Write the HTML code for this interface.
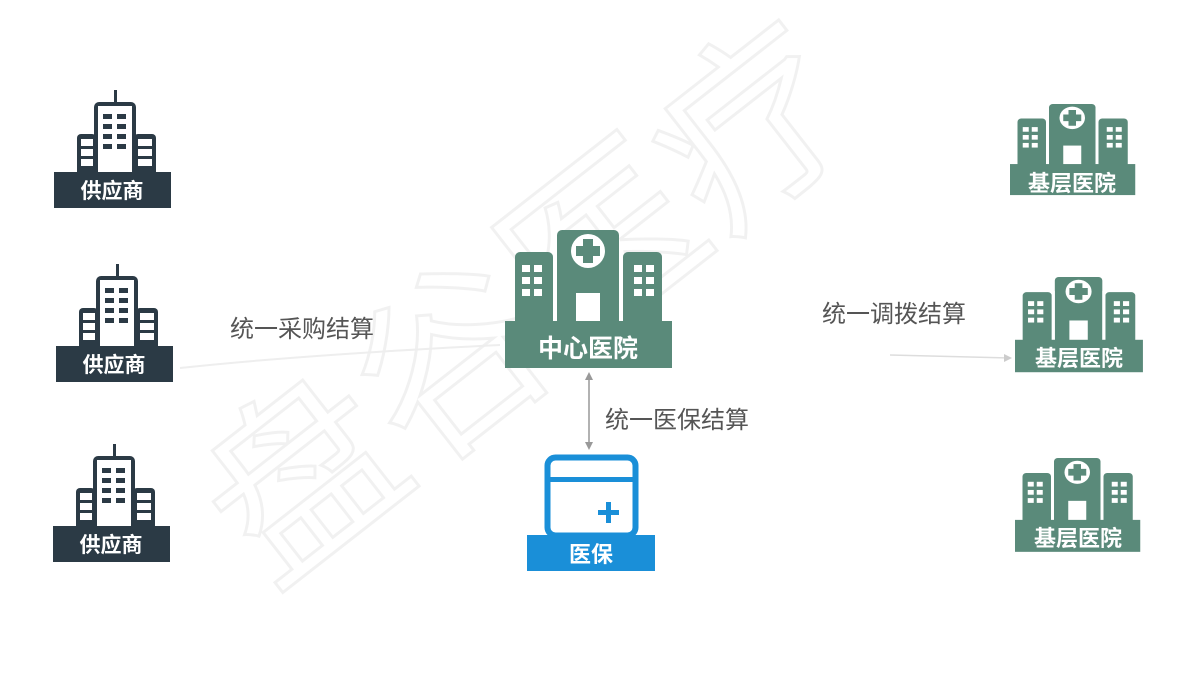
<!DOCTYPE html>
<html><head><meta charset="utf-8">
<style>
html,body{margin:0;padding:0;background:#fff;}
svg{display:block;}
text{font-family:"Liberation Sans","Noto Sans CJK SC",sans-serif;}
</style></head>
<body>
<svg width="1200" height="700" viewBox="0 0 1200 700" xmlns="http://www.w3.org/2000/svg">
<defs>
  <g id="sup">
    <rect x="60" y="0" width="3" height="14" fill="#2b3a45"/>
    <rect x="40" y="12" width="42" height="74" rx="5" fill="#2b3a45"/>
    <rect x="44" y="16" width="34" height="70" fill="#fff"/>
    <g fill="#2b3a45">
      <rect x="49" y="24" width="9" height="5"/><rect x="63" y="24" width="9" height="5"/>
      <rect x="49" y="34" width="9" height="5"/><rect x="63" y="34" width="9" height="5"/>
      <rect x="49" y="44" width="9" height="5"/><rect x="63" y="44" width="9" height="5"/>
      <rect x="49" y="54" width="9" height="5"/><rect x="63" y="54" width="9" height="5"/>
    </g>
    <rect x="23" y="44" width="19" height="42" rx="4" fill="#2b3a45"/>
    <rect x="80" y="44" width="22" height="42" rx="4" fill="#2b3a45"/>
    <g fill="#fff">
      <rect x="27" y="49" width="12" height="7"/><rect x="27" y="59" width="12" height="7"/><rect x="27" y="69" width="12" height="7"/>
      <rect x="84" y="49" width="14" height="7"/><rect x="84" y="59" width="14" height="7"/><rect x="84" y="69" width="14" height="7"/>
    </g>
    <rect x="0" y="82" width="117" height="36" fill="#2b3a45"/>
    <text x="58" y="108" font-size="21" font-weight="bold" fill="#fff" text-anchor="middle">供应商</text>
  </g>
  <g id="hosp">
    <rect x="10" y="22" width="38" height="74" rx="5" fill="#5a8a7a"/>
    <rect x="118" y="22" width="39" height="74" rx="5" fill="#5a8a7a"/>
    <rect x="52" y="0" width="62" height="96" rx="5" fill="#5a8a7a"/>
    <rect x="48" y="20" width="4" height="76" fill="#fff"/>
    <rect x="114" y="20" width="4" height="76" fill="#fff"/>
    <circle cx="83" cy="21" r="17" fill="#fff"/>
    <path d="M78 9h10v7h7v10h-7v7h-10v-7h-7v-10h7z" fill="#5a8a7a"/>
    <rect x="71" y="63" width="24" height="30" fill="#fff"/>
    <g fill="#fff">
      <rect x="17" y="35" width="8" height="7"/><rect x="29" y="35" width="8" height="7"/>
      <rect x="17" y="47" width="8" height="7"/><rect x="29" y="47" width="8" height="7"/>
      <rect x="17" y="59" width="8" height="7"/><rect x="29" y="59" width="8" height="7"/>
      <rect x="129" y="35" width="8" height="7"/><rect x="141" y="35" width="8" height="7"/>
      <rect x="129" y="47" width="8" height="7"/><rect x="141" y="47" width="8" height="7"/>
      <rect x="129" y="59" width="8" height="7"/><rect x="141" y="59" width="8" height="7"/>
    </g>
    <rect x="0" y="91" width="167" height="47" fill="#5a8a7a"/>
  </g>
</defs>

<!-- watermark -->
<g opacity="0.05" transform="translate(270,590) rotate(-38)">
  <text x="0" y="0" font-size="190" fill="none" stroke="#000" stroke-width="3">盘谷医疗</text>
</g>

<!-- suppliers -->
<use href="#sup" transform="translate(54,90)"/>
<use href="#sup" transform="translate(56,264)"/>
<use href="#sup" transform="translate(53,444)"/>

<!-- faint connectors -->
<path d="M180 368 Q300 355 500 345" stroke="#eee" stroke-width="2" fill="none"/>
<path d="M890 355 L1010 358" stroke="#ddd" stroke-width="1.5" fill="none"/>
<path d="M1004 354 L1012 358 L1004 362" fill="#ccc"/>

<!-- center hospital -->
<use href="#hosp" transform="translate(505,230)"/>
<text x="588" y="357" font-size="25" font-weight="bold" fill="#fff" text-anchor="middle">中心医院</text>

<!-- base hospitals -->
<use href="#hosp" transform="translate(1010,104) scale(0.75,0.66)"/>
<text x="1072" y="191" font-size="22" font-weight="bold" fill="#fff" text-anchor="middle">基层医院</text>
<use href="#hosp" transform="translate(1015,277) scale(0.766,0.69)"/>
<text x="1079" y="366" font-size="22" font-weight="bold" fill="#fff" text-anchor="middle">基层医院</text>
<use href="#hosp" transform="translate(1015,458) scale(0.75,0.68)"/>
<text x="1078" y="546" font-size="22" font-weight="bold" fill="#fff" text-anchor="middle">基层医院</text>

<!-- vertical arrow -->
<line x1="589" y1="376" x2="589" y2="446" stroke="#999" stroke-width="1.5"/>
<path d="M585 380 L589 372 L593 380Z M585 442 L589 450 L593 442Z" fill="#999"/>

<!-- yibao -->
<rect x="547.5" y="457.5" width="88" height="78" rx="8" fill="none" stroke="#1a8fd8" stroke-width="6"/>
<rect x="547" y="477" width="89" height="5" fill="#1a8fd8"/>
<path d="M606 502h5v8h8v5h-8v8h-5v-8h-8v-5h8z" fill="#1a8fd8"/>
<rect x="527" y="535" width="128" height="36" fill="#1a8fd8"/>
<text x="591" y="562" font-size="22" font-weight="bold" fill="#fff" text-anchor="middle">医保</text>

<!-- labels -->
<text x="230" y="337" font-size="24" fill="#555">统一采购结算</text>
<text x="822" y="322" font-size="24" fill="#555">统一调拨结算</text>
<text x="605" y="428" font-size="24" fill="#555">统一医保结算</text>
</svg>
</body></html>
